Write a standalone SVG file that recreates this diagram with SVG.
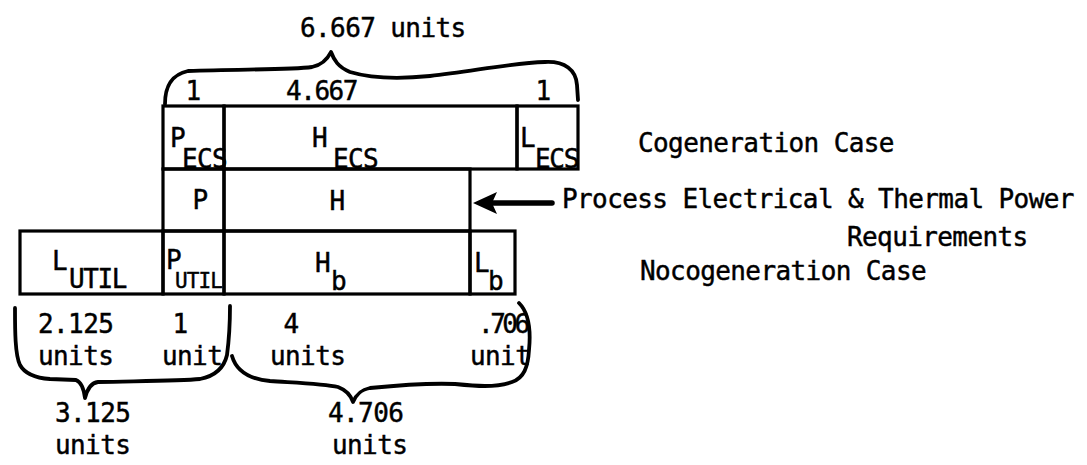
<svg xmlns="http://www.w3.org/2000/svg" width="1087" height="465" viewBox="0 0 1087 465">
<style>
  text { font-family: "DejaVu Sans Mono", "Liberation Mono", monospace; font-size: 26px; letter-spacing: -0.6px; fill: #000; stroke: #000; stroke-width: 0.45px; }
  .cell { fill: none; stroke: #000; stroke-width: 3.2; }
  .brace { fill: none; stroke: #000; stroke-width: 3.8; stroke-linecap: round; stroke-linejoin: round; }
  .arrow { fill: none; stroke: #000; stroke-width: 5.5; stroke-linecap: round; }
  .mid { text-anchor: middle; }
</style>
<defs>
  <marker id="head" viewBox="0 0 24 24" refX="7" refY="12" markerWidth="24" markerHeight="24" markerUnits="userSpaceOnUse" orient="auto">
    <path d="M0,1 L24,12 L0,23 L5,12 Z" fill="#000"/>
  </marker>
</defs>
<rect width="1087" height="465" fill="#fff"/>

<g id="P_ECS"><rect class="cell" x="163" y="106" width="61" height="63"/><text x="170" y="147">P<tspan x="182" y="168">ECS</tspan></text></g>
<g id="H_ECS"><rect class="cell" x="224" y="106" width="293" height="63"/><text x="312" y="147">H<tspan x="333" y="168">ECS</tspan></text></g>
<g id="L_ECS"><rect class="cell" x="517" y="106" width="61" height="63"/><text x="520" y="147">L<tspan x="535" y="168" style="letter-spacing:-1.3px">ECS</tspan></text></g>
<g id="P"><rect class="cell" x="163" y="169" width="61" height="62"/><text class="mid" x="200" y="209">P</text></g>
<g id="H"><rect class="cell" x="224" y="169" width="246" height="62"/><text class="mid" x="337" y="210">H</text></g>
<g id="L_UTIL"><rect class="cell" x="20" y="231" width="143" height="63"/><text x="52" y="270">L<tspan x="69" y="288" style="letter-spacing:-1.4px">UTIL</tspan></text></g>
<g id="P_UTIL"><rect class="cell" x="163" y="231" width="61" height="63"/><text x="166" y="269">P<tspan x="175" y="288" style="font-size:21px;letter-spacing:-0.9px">UTIL</tspan></text></g>
<g id="H_b"><rect class="cell" x="224" y="231" width="246" height="63"/><text x="315" y="272">H<tspan x="331" y="290">b</tspan></text></g>
<g id="L_b"><rect class="cell" x="470" y="231" width="45" height="63"/><text x="474" y="272">L<tspan x="488" y="290">b</tspan></text></g>

<g id="labels">
  <text x="300" y="37">6.667 units</text>
  <text class="mid" x="193" y="100">1</text>
  <text x="286" y="100" style="letter-spacing:-1.45px">4.667</text>
  <text class="mid" x="543" y="100">1</text>
  <text x="638" y="152">Cogeneration Case</text>
  <text x="562" y="208">Process Electrical &amp; Thermal Power</text>
  <text x="847" y="246">Requirements</text>
  <text x="640" y="280">Nocogeneration Case</text>
  <text x="38" y="333">2.125</text>
  <text x="38" y="365">units</text>
  <text class="mid" x="180" y="333">1</text>
  <text x="162" y="365">unit</text>
  <text class="mid" x="291" y="333">4</text>
  <text x="270" y="365">units</text>
  <text x="478" y="333" style="letter-spacing:-3.5px">.706</text>
  <text x="470" y="365">unit</text>
  <text x="55" y="422">3.125</text>
  <text x="55" y="454">units</text>
  <text x="328" y="422">4.706</text>
  <text x="332" y="454">units</text>
</g>

<g id="connectors">
  <path class="brace" d="M165,104 C165,88 170,75 188,71 C240,69 290,70 312,67 C322,65 327,60 331,52 C334,60 338,67 350,72 C370,78 400,79 430,76 C470,72 510,63 545,62 C565,61 576,70 577,85 L578,100"/>
  <path class="brace" d="M15,308 C15,330 15,355 20,365 C25,374 35,378 50,379 L76,380 C81,382 84,390 85,398 C87,390 90,383 98,382 C140,381 180,381 200,379 C215,376 224,368 227,355 C229,340 230,320 230,306"/>
  <path class="brace" d="M232,356 C236,370 248,379 270,381 C300,383 325,384 338,387 C346,390 351,396 353,402 C356,395 360,390 370,388 C400,385 430,383 455,384 C475,386 495,388 512,382 C524,378 528,367 529,350 C531,330 529,313 519,303"/>
  <line class="arrow" x1="552" y1="203" x2="490" y2="203" marker-end="url(#head)"/>
</g>
</svg>
